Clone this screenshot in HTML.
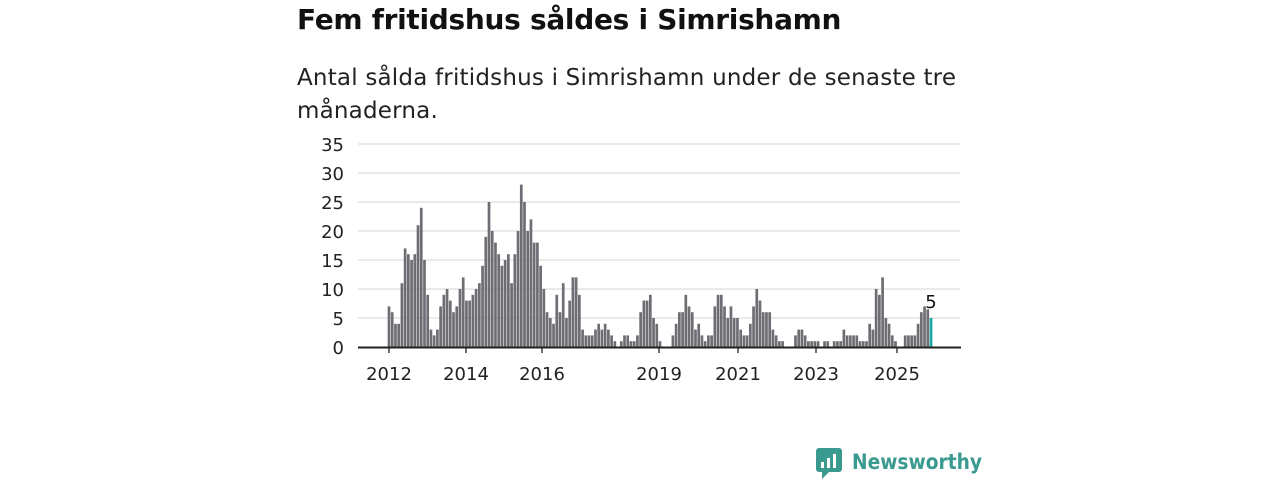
<!DOCTYPE html>
<html><head><meta charset="utf-8"><style>
body{margin:0;width:1280px;height:480px;background:#fff;font-family:"DejaVu Sans","Liberation Sans",sans-serif;overflow:hidden;position:relative}
.t{position:absolute;left:297px;top:3px;font-size:28px;font-weight:bold;color:#111;letter-spacing:-0.3px}
.s{position:absolute;left:297px;top:62px;font-size:23px;line-height:33px;color:#222;width:700px;letter-spacing:0.2px}
</style></head><body>
<div class="t">Fem fritidshus såldes i Simrishamn</div>
<div class="s">Antal sålda fritidshus i Simrishamn under de senaste tre<br>månaderna.</div>
<svg id="c" width="1280" height="480" style="position:absolute;left:0;top:0" font-family="DejaVu Sans, Liberation Sans, sans-serif"></svg>
<script>
var v=[7,6,4,4,11,17,16,15,16,21,24,15,9,3,2,3,7,9,10,8,6,7,10,12,8,8,9,10,11,14,19,25,20,18,16,14,15,16,11,16,20,28,25,20,22,18,18,14,10,6,5,4,9,6,11,5,8,12,12,9,
3,2,2,2,3,4,3,4,3,2,1,0,1,2,2,1,1,2,6,8,8,9,5,4,1,0,0,0,2,4,6,6,9,7,6,3,4,2,1,2,2,7,9,9,7,5,7,5,5,3,2,2,4,7,10,8,6,6,6,3,2,1,1,0,0,0,2,3,3,2,1,1,1,1,0,1,1,0,1,1,1,3,2,2,2,2,1,1,1,4,3,10,9,12,5,4,2,1,0,0,2,2,2,2,4,6,7,6.5,5];
var s='',y0=347,k=203/35;
for(var i=0;i<=7;i++){var y=y0-i*5*k;
 if(i>0)s+='<line x1="358" x2="960" y1="'+y+'" y2="'+y+'" stroke="#ddd" stroke-width="1.3"/>';
 s+='<text x="344" y="'+(y+7)+'" font-size="18" fill="#222" text-anchor="end">'+(i*5)+'</text>';}
var x0=389,x1=931,p=(x1-x0)/(v.length-1);
for(var i=0;i<v.length;i++){var h=v[i]*k,x=x0+i*p;
 s+='<rect x="'+(x-1.35)+'" y="'+(y0-h)+'" width="2.7" height="'+h+'" fill="'+(i==v.length-1?'#1aa7a0':'#6e6d73')+'"/>';}
s+='<line x1="358" x2="961" y1="347.5" y2="347.5" stroke="#222" stroke-width="2"/>';
[[389,'2012'],[466,'2014'],[542,'2016'],[659,'2019'],[738,'2021'],[816,'2023'],[897,'2025']].forEach(function(t){
 s+='<line x1="'+t[0]+'" x2="'+t[0]+'" y1="347" y2="353" stroke="#222" stroke-width="1.3"/>';
 s+='<text x="'+t[0]+'" y="380" font-size="18" fill="#222" text-anchor="middle">'+t[1]+'</text>';});
s+='<text x="931" y="308" font-size="18" fill="#111" text-anchor="middle">5</text>';
s+='<rect x="816" y="448" width="26" height="24" rx="3" fill="#3a9a8f"/><path d="M822 472 L822 479 L829 472Z" fill="#3a9a8f"/>';
s+='<rect x="821" y="462" width="3" height="6" fill="#fff"/><rect x="827" y="458" width="3" height="10" fill="#fff"/><rect x="833" y="454" width="3" height="14" fill="#fff"/>';
s+='<text x="852" y="469" font-size="21" font-weight="bold" fill="#3a9a8f" textLength="130" lengthAdjust="spacingAndGlyphs">Newsworthy</text>';
document.getElementById('c').innerHTML=s;
</script>
</body></html>
